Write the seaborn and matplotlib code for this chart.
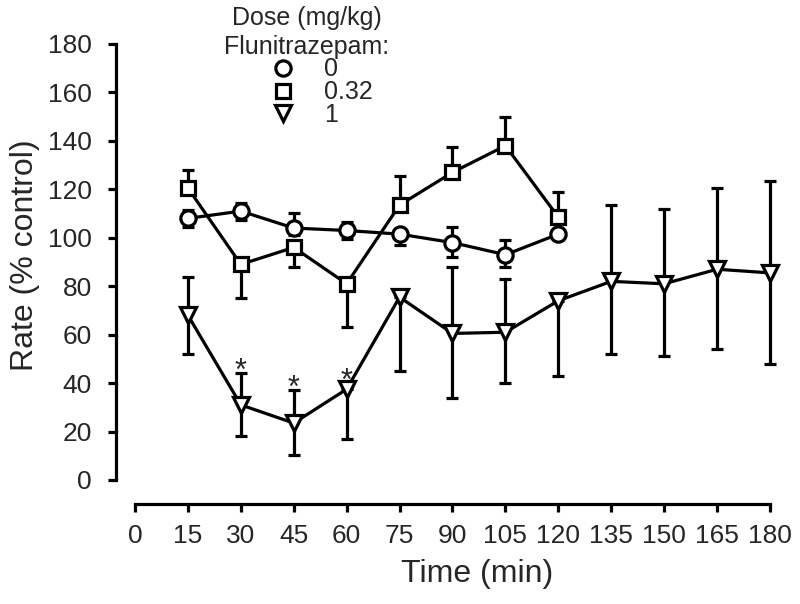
import pandas as pd
import seaborn as sns
import matplotlib.pyplot as plt
from matplotlib.lines import Line2D

sns.set_style("ticks")
plt.rcParams["font.family"] = ["Liberation Sans", "DejaVu Sans"]

# dose 0 mg/kg (circles)
time_0 = [15, 30, 45, 60, 75, 90, 105, 120]
rate_0 = [108, 111, 104, 103, 101.5, 98, 93, 101.5]
lo_0 = [3.5, 3.5, 3, 3.5, 4.5, 6, 5, 0]
hi_0 = [3.5, 3.5, 6.3, 3.5, 0, 6.5, 6, 0]

# dose 0.32 mg/kg (squares)
time_032 = [15, 30, 45, 60, 75, 90, 105, 120]
rate_032 = [120.5, 89, 96, 81, 113.5, 127, 138, 108.5]
lo_032 = [0, 14, 8, 18, 0, 0, 0, 0]
hi_032 = [7.5, 0, 0, 0, 12, 10.5, 12, 10.5]

# dose 1 mg/kg (triangles)
time_1 = [15, 30, 45, 60, 75, 90, 105, 120, 135, 150, 165, 180]
rate_1 = [68, 31, 23.5, 37.5, 75.5, 60.5, 61, 74, 82, 81, 87, 85.5]
lo_1 = [16, 13, 13, 20.5, 30.5, 26.5, 21, 31, 30, 30, 33, 37.5]
hi_1 = [16, 13, 13.5, 0, 0, 27.5, 22, 0, 31.5, 31, 33.5, 38]

# significance stars
sig_time = [30, 45, 60]
sig_y = [47.5, 40.5, 43.5]

doses = ["0", "0.32", "1"]
marker_map = {"0": "o", "0.32": "s", "1": "v"}
size_map = {"o": 11, "s": 10.5, "v": 12}

df = pd.concat([
    pd.DataFrame({"time": time_0, "rate": rate_0, "dose": "0"}),
    pd.DataFrame({"time": time_032, "rate": rate_032, "dose": "0.32"}),
    pd.DataFrame({"time": time_1, "rate": rate_1, "dose": "1"}),
], ignore_index=True)

fig = plt.figure(figsize=(8, 6.04), dpi=100)
ax = fig.add_axes([0.16875, 0.2053, 0.79375, 0.7219])

sns.lineplot(data=df, x="time", y="rate", style="dose", markers=marker_map,
             dashes=False, color="black", linewidth=2.3, markersize=11,
             sort=False, errorbar=None, legend=False, ax=ax)
for line in ax.lines:
    line.set_markerfacecolor("white")
    line.set_markeredgecolor("black")
    line.set_markeredgewidth(2.3)
    line.set_markersize(size_map.get(line.get_marker(), 11))
    line.set_clip_on(False)

for t, r, lo, hi in [(time_0, rate_0, lo_0, hi_0),
                     (time_032, rate_032, lo_032, hi_032),
                     (time_1, rate_1, lo_1, hi_1)]:
    ax.errorbar(t, r, yerr=[lo, hi], fmt="none", ecolor="black",
                elinewidth=2.3, capsize=4, capthick=2.3, zorder=1.5,
                clip_on=False)

for t, y in zip(sig_time, sig_y):
    ax.annotate("*", (t, y), ha="center", va="center", fontsize=22,
                xytext=(0, -5), textcoords="offset points")

ax.set_xlim(0, 180)
ax.set_ylim(0, 180)
ax.set_xticks(range(0, 181, 15))
ax.set_yticks(range(0, 181, 20))
ax.tick_params(axis="both", direction="out", length=6, width=2.3,
               labelsize=19, color="black")
ax.tick_params(axis="x", pad=9)
ax.tick_params(axis="y", pad=11)

sns.despine(ax=ax, offset={"left": 14, "bottom": 17})
for s in ["left", "bottom"]:
    ax.spines[s].set_linewidth(2.3)
    ax.spines[s].set_color("black")

ax.set_xlabel("Time (min)", fontsize=23)
ax.xaxis.set_label_coords(0.5386, -0.181)
ax.set_ylabel("Rate (% control)", fontsize=23)
ax.yaxis.set_label_coords(-0.15, 0.516)

handles = [Line2D([], [], marker=marker_map[d], ls="none",
                  markersize=size_map[marker_map[d]],
                  markerfacecolor="white", markeredgecolor="black",
                  markeredgewidth=2.3) for d in doses]
leg = fig.legend(handles, doses, title="Dose (mg/kg)\nFlunitrazepam:",
                 loc="upper center", bbox_to_anchor=(307 / 800, 1 - 6 / 604),
                 frameon=False, fontsize=18, title_fontsize=18,
                 handlelength=3.3, handletextpad=0, labelspacing=-0.05,
                 borderpad=0, borderaxespad=0)
leg.get_title().set_multialignment("center")
leg.get_title().set_linespacing(1.25)

fig.savefig("out.png", dpi=100)
